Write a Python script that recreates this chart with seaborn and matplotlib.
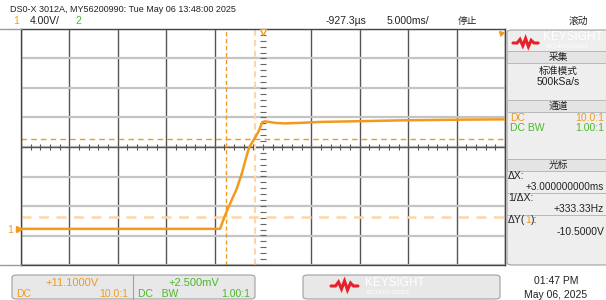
#%%
# Oscilloscope screenshot recreation (Keysight DSO-X 3012A)
import numpy as np
import pandas as pd
import seaborn as sns
import matplotlib.pyplot as plt
from matplotlib.patches import FancyBboxPatch, Rectangle
from matplotlib.lines import Line2D

#%%
# Trace data: time (ms, relative to screen centre) and channel 1 voltage (V)
time_ms = [-25, -4.44, -3.93, -3.41, -2.72, -2.20, -1.68, -1.42, -1.00, -0.49,
           -0.07, 0.2, 1.24, 2.27, 3.8, 5.9, 10.0, 14.15, 20.0, 25.0]
volts = [0.0, 0.0, 1.80, 3.39, 5.42, 7.46, 9.94, 11.08, 11.97, 13.11,
         14.47, 14.58, 14.37, 14.30, 14.37, 14.50, 14.60, 14.71, 14.80, 14.85]

# Scope settings
time_per_div = 5.0      # ms/div
volt_per_div = 4.0      # V/div
offset = 11.1           # V at screen centre
cursor_x = [-3.8, -0.8]     # ms
cursor_y = [12.2, 1.6]      # V

orange = "#f39a1e"
light_orange = "#fdd5a8"
green = "#4cb82a"
dark = "#222222"

df = pd.DataFrame({"t": time_ms, "v": volts})

#%%
sns.set_style("white")
plt.rcParams["font.family"] = ["Liberation Sans", "Noto Sans CJK SC", "DejaVu Sans"]

fig = plt.figure(figsize=(6.06, 3.0), dpi=100)
W, H = 606, 300

def fx(x):
    return x / W

def fy(y):
    return 1 - y / H

ax = fig.add_axes([fx(21), fy(265), (505 - 21) / W, (265 - 29) / H])
ax.set_xlim(-5 * time_per_div, 5 * time_per_div)
ax.set_ylim(offset - 4 * volt_per_div, offset + 4 * volt_per_div)

# Grid (centre vertical division is shown only by its tick marks)
for gx in np.arange(-5, 6) * time_per_div:
    if gx != 0:
        ax.axvline(gx, color="#555555", lw=1, zorder=1)
for gy in offset + np.arange(-4, 5) * volt_per_div:
    ax.axhline(gy, color="#c4c4c4", lw=1.6, zorder=1)
ax.axhline(offset, color="#555555", lw=1, zorder=1)

# Centre axis minor ticks
minor_t = np.arange(-25, 25.1, time_per_div / 5)
ax.plot(minor_t, np.full_like(minor_t, offset), ls="none", marker="|",
        ms=4, color="#555555", mew=0.8, zorder=1)
minor_v = offset + np.arange(-4, 4.01, 0.2) * volt_per_div
ax.plot(np.zeros_like(minor_v), minor_v, ls="none", marker="_",
        ms=4, color="#666666", mew=0.8, zorder=1)

for s in ax.spines.values():
    s.set_color("#444444")
    s.set_linewidth(1)
ax.set_xticks([])
ax.set_yticks([])

# Cursors
ax.axvline(cursor_x[0], color=orange, lw=1, ls=(0, (3, 2)), zorder=2)
ax.axvline(cursor_x[1], color=light_orange, lw=1.5, ls=(0, (3, 2)), zorder=2)
ax.axhline(cursor_y[0], color=orange, lw=1, ls=(0, (4, 3)), zorder=2)
ax.axhline(cursor_y[1], color=light_orange, lw=1.8, ls=(0, (4, 3)), zorder=2)

# Channel 1 trace
sns.lineplot(data=df, x="t", y="v", ax=ax, color=orange, lw=1.8,
             estimator=None, sort=True, zorder=3)
ax.set_xlabel("")
ax.set_ylabel("")

# Trigger marker, ground marker, corner flag
ax.plot([0], [offset + 4 * volt_per_div - 0.4], marker="v", ms=5, mfc="white",
        mec=orange, mew=1, clip_on=False, zorder=4)
ax.plot([-25.2], [0], marker=">", ms=4, color=orange, clip_on=False, zorder=4)
ax.plot([24.6], [offset + 4 * volt_per_div - 0.5], marker=(3, 0, 45), ms=4,
        color=orange, clip_on=False, zorder=4)
fig.text(fx(10), fy(230), "1", color=orange, fontsize=7.5, ha="center", va="center")

# Outer border lines that run past the graticule
fig.add_artist(Line2D([0, fx(21)], [fy(29), fy(29)], color="#999999", lw=1))
fig.add_artist(Line2D([0, fx(21)], [fy(265), fy(265)], color="#999999", lw=1))

#%%
# Header texts
fig.text(fx(10), fy(10), "DS0-X 3012A, MY56200990: Tue May 06 13:48:00 2025",
         fontsize=6.5, color=dark, va="center")
fig.text(fx(13), fy(21), "1", color=orange, fontsize=7.5, va="center")
fig.text(fx(30), fy(21), "4.00V/", color=dark, fontsize=7.5, va="center")
fig.text(fx(75), fy(21), "2", color=green, fontsize=7.5, va="center")
fig.text(fx(326), fy(21), "-927.3µs", color=dark, fontsize=7.5, va="center")
fig.text(fx(387), fy(21), "5.000ms/", color=dark, fontsize=7.5, va="center")
fig.text(fx(458), fy(21), "停止", color=dark, fontsize=7, va="center")
fig.text(fx(578), fy(21), "滚动", color=dark, fontsize=7, va="center", ha="center")

#%%
# Right-hand side panel
panel = FancyBboxPatch((fx(507), fy(265)), (W - 507 + 10) / W, (265 - 30) / H,
                       boxstyle="round,pad=0,rounding_size=0.008",
                       transform=fig.transFigure, fc="#eeeeee", ec="#a0a0a0",
                       lw=0.8, clip_on=False)
fig.add_artist(panel)

def wave_logo(x0, y0, sx, sy):
    xs = x0 + sx * np.array([0, 3, 5, 7, 9, 11, 13, 15, 18])
    ys = y0 + sy * np.array([0, 0, -4, 3, -5, 4, -3, 0, 0])
    fig.add_artist(Line2D(xs / W, 1 - ys / H, color="#e8202a", lw=2.2,
                          solid_joinstyle="miter"))

wave_logo(513, 43, 1.4, 0.9)
fig.text(fx(543), fy(37), "KEYSIGHT", color="white", fontsize=8.5, va="center")
fig.text(fx(545), fy(46), "TECHNOLOGIES", color="white", fontsize=4, va="center")

def section_header(y, label):
    fig.add_artist(Rectangle((fx(507), fy(y + 6)), (W - 507) / W, 12 / H,
                             transform=fig.transFigure, fc="#e4e4e4",
                             ec="#b0b0b0", lw=0.6))
    fig.text(fx(558), fy(y), label, fontsize=7, color=dark,
             ha="center", va="center")

section_header(57, "采集")
fig.text(fx(558), fy(71), "标准模式", fontsize=7, color=dark, ha="center", va="center")
fig.text(fx(558), fy(82), "500kSa/s", fontsize=7.5, color=dark, ha="center", va="center")

section_header(106, "通道")
fig.text(fx(510), fy(118), "DC", fontsize=7.5, color=orange, va="center")
fig.text(fx(604), fy(118), "10.0:1", fontsize=7.5, color=orange, va="center", ha="right")
fig.text(fx(510), fy(128), "DC BW", fontsize=7.5, color=green, va="center")
fig.text(fx(604), fy(128), "1.00:1", fontsize=7.5, color=green, va="center", ha="right")

section_header(165, "光标")
fig.text(fx(508), fy(176), "ΔX:", fontsize=7.5, color=dark, va="center")
fig.text(fx(604), fy(187), "+3.000000000ms", fontsize=7.2, color=dark, va="center", ha="right")
fig.add_artist(Line2D([fx(507), 1], [fy(193), fy(193)], color="#b0b0b0", lw=0.6))
fig.text(fx(508), fy(198), "1/ΔX:", fontsize=7.5, color=dark, va="center")
fig.text(fx(604), fy(209), "+333.33Hz", fontsize=7.5, color=dark, va="center", ha="right")
fig.add_artist(Line2D([fx(507), 1], [fy(215), fy(215)], color="#b0b0b0", lw=0.6))
t1 = fig.text(fx(508), fy(220), "ΔY(", fontsize=7.5, color=dark, va="center")
t2 = fig.text(0, 0, "1", fontsize=7.5, color=orange, va="center")
t3 = fig.text(0, 0, "):", fontsize=7.5, color=dark, va="center")
fig.canvas.draw()
r = fig.canvas.get_renderer()
bb = t1.get_window_extent(r)
t2.set_position((bb.x1 / fig.bbox.width, fy(220)))
bb2 = t2.get_window_extent(r)
t3.set_position((bb2.x1 / fig.bbox.width, fy(220)))
fig.text(fx(604), fy(232), "-10.5000V", fontsize=7.5, color=dark, va="center", ha="right")

#%%
# Bottom status bar
box1 = FancyBboxPatch((fx(12), fy(299)), (255 - 12) / W, 24 / H,
                      boxstyle="round,pad=0,rounding_size=0.008",
                      transform=fig.transFigure, fc="#e8e8e8", ec="#a0a0a0",
                      lw=0.8, clip_on=False)
fig.add_artist(box1)
fig.add_artist(Line2D([fx(133), fx(133)], [fy(275), fy(299)], color="#a0a0a0", lw=0.8))
fig.text(fx(72), fy(283), "+11.1000V", fontsize=8, color=orange, ha="center", va="center")
fig.text(fx(16), fy(294), "DC", fontsize=7.5, color=orange, va="center")
fig.text(fx(128), fy(294), "10.0:1", fontsize=7.5, color=orange, va="center", ha="right")
fig.text(fx(194), fy(283), "+2.500mV", fontsize=8, color=green, ha="center", va="center")
fig.text(fx(138), fy(294), "DC   BW", fontsize=7.5, color=green, va="center")
fig.text(fx(250), fy(294), "1.00:1", fontsize=7.5, color=green, va="center", ha="right")

box2 = FancyBboxPatch((fx(303), fy(299)), (500 - 303) / W, 24 / H,
                      boxstyle="round,pad=0,rounding_size=0.008",
                      transform=fig.transFigure, fc="#e8e8e8", ec="#a0a0a0",
                      lw=0.8, clip_on=False)
fig.add_artist(box2)
wave_logo(331, 286, 1.5, 1.0)
fig.text(fx(365), fy(283), "KEYSIGHT", color="white", fontsize=8.5, va="center")
fig.text(fx(366), fy(292), "TECHNOLOGIES", color="white", fontsize=4, va="center")

fig.text(fx(556), fy(281), "01:47 PM", fontsize=7.5, color=dark, ha="center", va="center")
fig.text(fx(556), fy(295), "May 06, 2025", fontsize=7.5, color=dark, ha="center", va="center")

fig.savefig("out.png", dpi=100)
